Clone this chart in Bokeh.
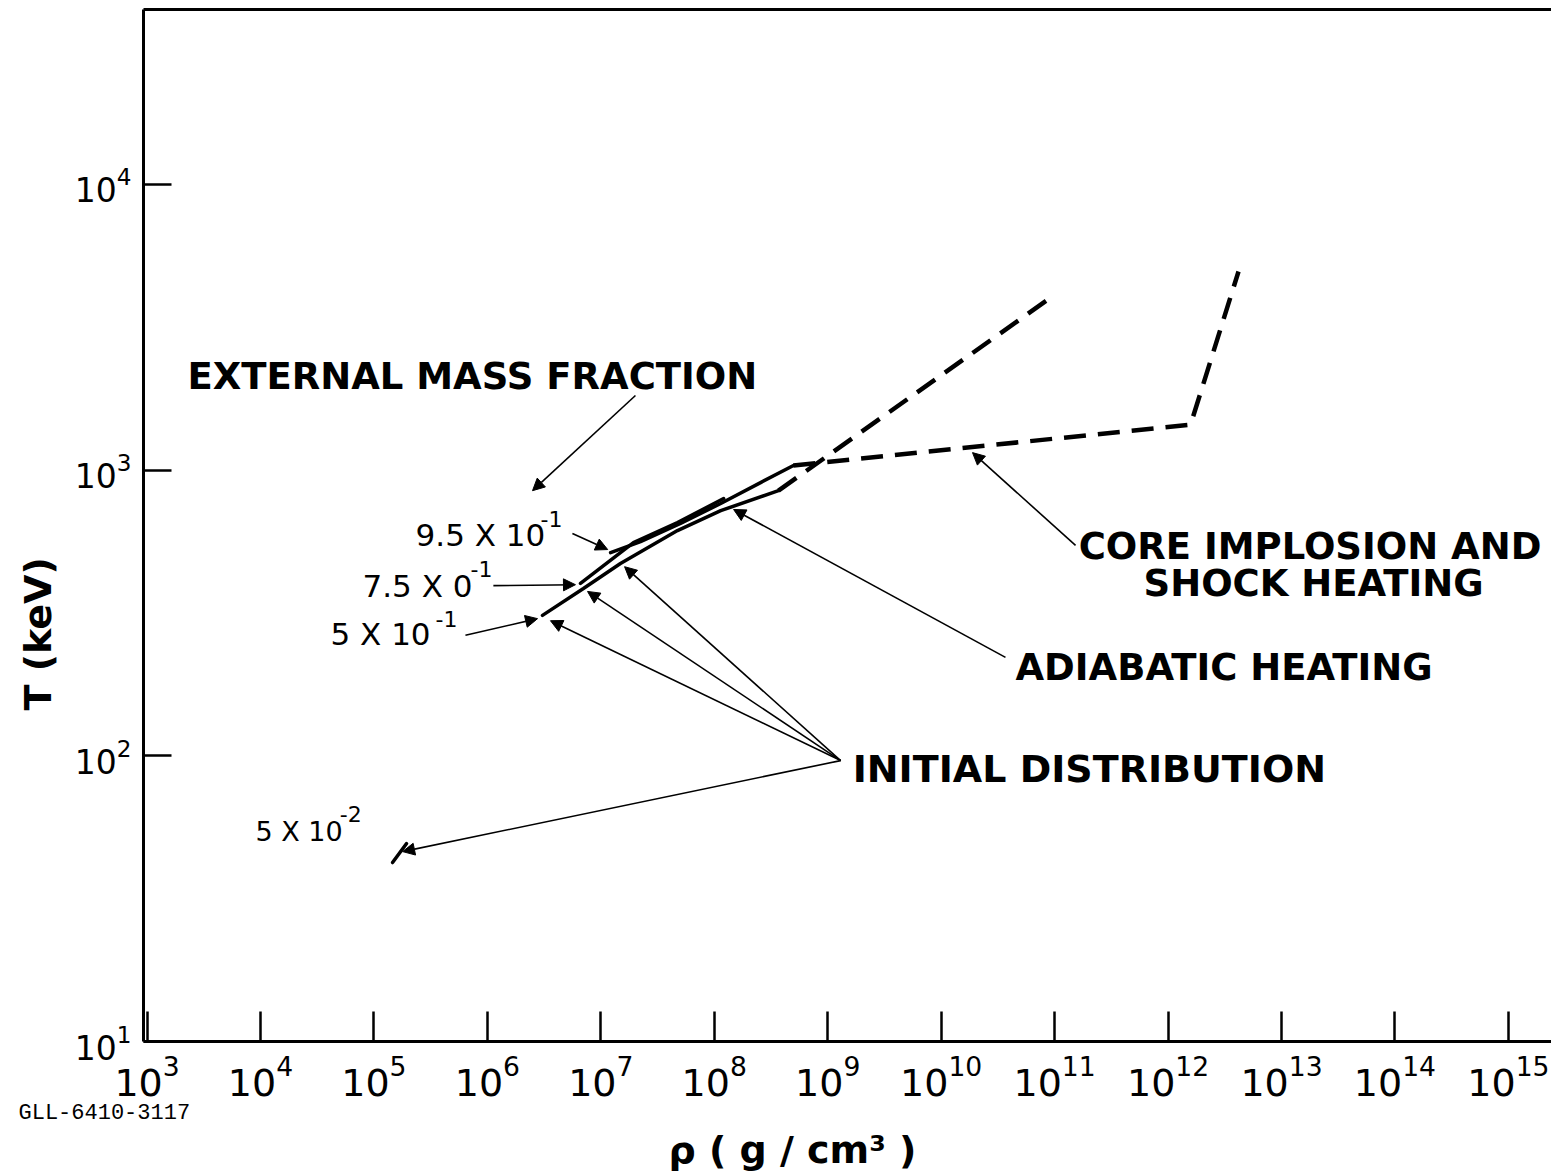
from bokeh.plotting import figure
from bokeh.models import (LogAxis, FixedTicker, Label, Arrow, NormalHead, Range1d, Title)
from bokeh.embed import file_html
from bokeh.resources import INLINE

# ---- trajectories in the (density, temperature) plane ----
# external mass fraction 5e-2: initial distribution only
rho_m005 = [1.46e5, 1.94e5]
T_m005 = [42.3, 49.3]

# external mass fraction 5e-1: initial point + adiabatic heating
rho_m050 = [3.06e6, 7.03e6, 1.49e7, 4.74e7, 1.14e8, 3.68e8]
T_m050 = [310, 385, 471, 614, 721, 847]

# external mass fraction 7.5e-1
rho_m075 = [6.62e6, 1.94e7, 4.74e7, 1.21e8]
T_m075 = [401, 557, 655, 795]

# external mass fraction 9.5e-1
rho_m095 = [1.22e7, 2.24e7, 5.04e7, 1.14e8, 2.56e8, 4.99e8]
T_m095 = [514, 562, 650, 764, 904, 1038]

# core implosion and shock heating (dashed)
rho_shock1 = [3.68e8, 8.49e10]
T_shock1 = [847, 3920]
rho_shock2 = [4.99e8, 1.58e12, 4.18e12]
T_shock2 = [1038, 1442, 4955]

x_ticks = [10.0 ** k for k in range(3, 16)]
y_ticks = [10.0 ** k for k in range(1, 5)]

FONT = "DejaVu Sans"

p = figure(width=1551, height=1171, x_axis_type="log", y_axis_type="log",
           x_range=Range1d(10 ** 2.969, 10 ** 15.38),
           y_range=Range1d(10 ** 1.0, 10 ** 4.612),
           output_backend="svg", toolbar_location=None,
           min_border_left=143, min_border_right=0,
           min_border_top=9, min_border_bottom=130)
p.outline_line_color = None
p.grid.visible = False
p.background_fill_color = "white"
p.border_fill_color = "white"

# bottom axis
xa = p.xaxis[0]
xa.ticker = FixedTicker(ticks=x_ticks)
xa.axis_line_width = 3
xa.major_tick_line_width = 2.5
xa.major_tick_in = 30
xa.major_tick_out = 0
xa.minor_tick_line_color = None
xa.major_label_text_font = FONT
xa.major_label_text_font_size = "38px"
xa.major_label_text_color = "black"
xa.major_label_standoff = 13

# left axis
ya = p.yaxis[0]
ya.ticker = FixedTicker(ticks=y_ticks)
ya.axis_line_width = 3
ya.major_tick_line_width = 2.5
ya.major_tick_in = 28
ya.major_tick_out = 0
ya.minor_tick_line_color = None
ya.major_label_text_font = FONT
ya.major_label_text_font_size = "33px"
ya.major_label_text_color = "black"
ya.major_label_standoff = 12

# top frame edge
top = LogAxis(ticker=FixedTicker(ticks=[]), axis_line_width=3,
              major_tick_in=0, major_tick_out=0, minor_tick_line_color=None,
              major_label_text_font_size="0px", major_label_standoff=0)
p.add_layout(top, "above")

# axis titles and figure id, placed in the side panels
p.add_layout(Title(text="GLL-6410-3117", align="left", offset=-125,
                   text_font="Liberation Mono", text_font_size="22px",
                   text_font_style="normal", text_color="black",
                   standoff=0), "below")
p.add_layout(Title(text="ρ ( g / cm³ )", align="left", offset=525,
                   text_font=FONT, text_font_size="38px",
                   text_font_style="bold", text_color="black",
                   standoff=0), "below")
p.add_layout(Title(text="T (keV)", align="left", offset=331,
                   text_font=FONT, text_font_size="38px",
                   text_font_style="bold", text_color="black",
                   standoff=24), "left")

# curves
for xs, ys in [(rho_m005, T_m005), (rho_m050, T_m050),
               (rho_m075, T_m075), (rho_m095, T_m095)]:
    p.line(xs, ys, line_width=3.5, line_color="black", line_cap="round")
for xs, ys in [(rho_shock1, T_shock1), (rho_shock2, T_shock2)]:
    p.line(xs, ys, line_width=4.5, line_color="black", line_dash="22 12")


def arrow(x0, y0, x1, y1):
    p.add_layout(Arrow(end=NormalHead(size=12, fill_color="black",
                                      line_color="black", line_width=1),
                       x_start=x0, y_start=y0, x_end=x1, y_end=y1,
                       line_width=1.6, line_color="black"))


def label(x, y, text, size, bold=False, dy=12):
    p.add_layout(Label(x=x, y=y, text=text, y_offset=dy,
                       text_font=FONT, text_font_size=size,
                       text_font_style="bold" if bold else "normal",
                       text_align="left", text_baseline="alphabetic",
                       text_color="black"))


# annotation arrows
arrow(2.02e7, 1824, 2.50e6, 847)          # external mass fraction
arrow(5.62e6, 600, 1.15e7, 527)           # 9.5e-1
arrow(1.13e6, 394, 5.98e6, 397)           # 7.5e-1
arrow(6.41e5, 264, 2.77e6, 302)           # 5e-1
for tx, ty in [(3.6e6, 297), (7.64e6, 376), (1.62e7, 459), (1.79e5, 46.2)]:
    arrow(1.30e9, 96.2, tx, ty)           # initial distribution
arrow(3.69e10, 221, 1.48e8, 728)          # adiabatic heating
arrow(1.53e11, 545, 1.89e10, 1151)        # core implosion

# annotation texts
label(2.27e3, 1928, "EXTERNAL MASS FRACTION", "37px", bold=True)
label(2.33e5, 540, "9.5 X 10", "31px")
label(2.94e6, 614, "-1", "22px")
label(7.93e4, 358, "7.5 X  0", "31px")
label(7.10e5, 410, "-1", "22px")
label(4.14e4, 243, "5 X 10", "31px")
label(3.49e5, 274, "-1", "22px")
label(9.04e3, 49.3, "5 X 10", "27px")
label(5.0e4, 57.0, "-2", "22px")
label(1.66e9, 81.9, "INITIAL DISTRIBUTION", "38px", bold=True)
label(4.52e10, 185, "ADIABATIC HEATING", "37px", bold=True)
label(1.63e11, 490, "CORE IMPLOSION AND", "37px", bold=True)
label(6.08e11, 364, "SHOCK HEATING", "37px", bold=True)

open("out.html", "w").write(file_html(p, INLINE))
